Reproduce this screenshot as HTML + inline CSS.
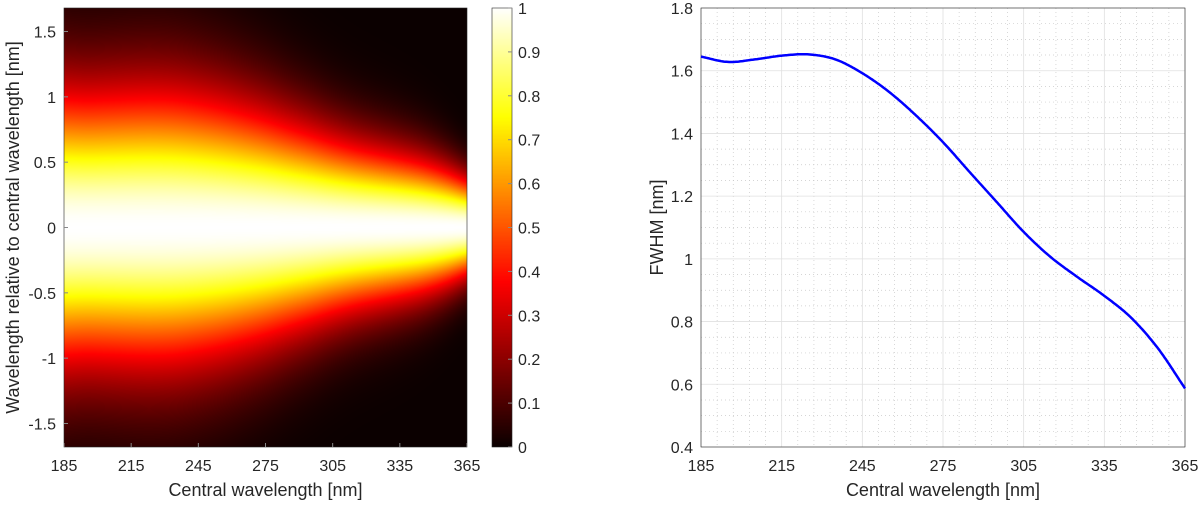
<!DOCTYPE html>
<html><head><meta charset="utf-8">
<style>
body{margin:0;background:#fff;width:1200px;height:505px;overflow:hidden;font-family:"Liberation Sans",sans-serif}
#wrap{position:relative;width:1200px;height:505px}
canvas{position:absolute}
svg{position:absolute;left:0;top:0}
text{font-family:"Liberation Sans",sans-serif;fill:#262626}
</style></head>
<body>
<div id="wrap">
<canvas id="heat" width="403" height="439" style="left:64px;top:8px"></canvas>
<canvas id="cbar" width="20" height="439" style="left:492px;top:8px"></canvas>
<svg id="svg" width="1200" height="505"></svg>
</div>
<script>
const xTicks=[185,215,245,275,305,335,365];
const lambdas=[185,195,205,215,225,235,245,255,265,275,285,295,305,315,325,335,345,355,365];
const fwhm=[1.645,1.628,1.636,1.648,1.652,1.636,1.592,1.532,1.457,1.372,1.276,1.181,1.086,1.006,0.942,0.882,0.812,0.714,0.587];
const yTicksL=[-1.5,-1,-0.5,0,0.5,1,1.5];
const yTickLabelsL=['-1.5','-1','-0.5','0','0.5','1','1.5'];
const cbTicks=[0,0.1,0.2,0.3,0.4,0.5,0.6,0.7,0.8,0.9,1];
const yTicksR=[0.4,0.6,0.8,1,1.2,1.4,1.6,1.8];
const yTickLabelsR=['0.4','0.6','0.8','1','1.2','1.4','1.6','1.8'];

const NS='http://www.w3.org/2000/svg';
const svg=document.getElementById('svg');
function el(tag,attrs,parent){const e=document.createElementNS(NS,tag);for(const k in attrs)e.setAttribute(k,attrs[k]);(parent||svg).appendChild(e);return e;}
function txt(x,y,s,anchor,size,name){const t=el('text',{x:x,y:y,'text-anchor':anchor,'font-size':size});t.textContent=s;


return t;}
function interp(x){const n=lambdas.length;
 for(let i=0;i<n-1;i++){if(x<=lambdas[i+1]||i===n-2){const h=lambdas[i+1]-lambdas[i];const t=Math.max(0,Math.min(1,(x-lambdas[i])/h));
  const p0=fwhm[Math.max(0,i-1)],p1=fwhm[i],p2=fwhm[i+1],p3=fwhm[Math.min(n-1,i+2)];
  const m1=(i===0)?(p2-p1):(p2-p0)/2, m2=(i+1===n-1)?(p2-p1):(p3-p1)/2;
  const t2=t*t,t3=t2*t;
  return (2*t3-3*t2+1)*p1+(t3-2*t2+t)*m1+(-2*t3+3*t2)*p2+(t3-t2)*m2;}}
 return fwhm[n-1];}
function hot(t){t=Math.max(0,Math.min(1,t));const r=Math.min(1,0.0417+t/0.375*(1-0.0417));const g=Math.max(0,Math.min(1,(t-0.375)/0.375));const b=Math.max(0,Math.min(1,(t-0.75)/0.25));return [r*255,g*255,b*255];}

const L={x0:64,x1:467,y0:8,y1:447,xmin:185,xmax:365,ymin:-1.68,ymax:1.68};
const lx=v=>L.x0+(v-L.xmin)/(L.xmax-L.xmin)*(L.x1-L.x0);
const ly=v=>L.y1-(v-L.ymin)/(L.ymax-L.ymin)*(L.y1-L.y0);
const hc=document.getElementById('heat').getContext('2d');
const W=403,H=439,img=hc.createImageData(W,H);
for(let i=0;i<W;i++){const lam=L.xmin+(i+0.5)/W*(L.xmax-L.xmin);const fw=interp(lam);
 for(let j=0;j<H;j++){const y=L.ymax-(j+0.5)/H*(L.ymax-L.ymin);const v=Math.exp(-4*Math.LN2*y*y/(fw*fw));const c=hot(v);const k=(j*W+i)*4;img.data[k]=c[0];img.data[k+1]=c[1];img.data[k+2]=c[2];img.data[k+3]=255;}}
hc.putImageData(img,0,0);
const cc=document.getElementById('cbar').getContext('2d');
for(let j=0;j<439;j++){const c=hot(1-(j+0.5)/439);cc.fillStyle=`rgb(${c[0]|0},${c[1]|0},${c[2]|0})`;cc.fillRect(0,j,20,1);}

el('rect',{x:L.x0,y:L.y0,width:L.x1-L.x0,height:L.y1-L.y0,fill:'none',stroke:'#262626','stroke-width':0.6});
xTicks.forEach(v=>{el('line',{x1:lx(v),x2:lx(v),y1:L.y1,y2:L.y1-4,stroke:'#888'});txt(lx(v),471,String(v),'middle',16,'x-tick-label');});
yTicksL.forEach((v,i)=>{el('line',{x1:L.x0,x2:L.x0+4,y1:ly(v),y2:ly(v),stroke:'#888'});txt(L.x0-8,ly(v)+6,yTickLabelsL[i],'end',16,'y-tick-label');});
txt((L.x0+L.x1)/2,496,'Central wavelength [nm]','middle',18,'x-axis-title');
const yt=txt(0,0,'Wavelength relative to central wavelength [nm]','middle',18,'y-axis-title');yt.setAttribute('transform',`translate(19,${(L.y0+L.y1)/2}) rotate(-90)`);
const cy=v=>447-v*439;
el('rect',{x:492,y:8,width:20,height:439,fill:'none',stroke:'#262626','stroke-width':0.6});
cbTicks.forEach(v=>{el('line',{x1:508,x2:512,y1:cy(v),y2:cy(v),stroke:'#888'});txt(518,cy(v)+6,String(v),'start',16,'colorbar-tick-label');});

const R={x0:701,x1:1185,y0:8,y1:447,xmin:185,xmax:365,ymin:0.4,ymax:1.8};
const rx=v=>R.x0+(v-R.xmin)/(R.xmax-R.xmin)*(R.x1-R.x0);
const ry=v=>R.y1-(v-R.ymin)/(R.ymax-R.ymin)*(R.y1-R.y0);
for(let v=185;v<=365;v+=6){if((v-185)%30)el('line',{x1:rx(v),x2:rx(v),y1:R.y0,y2:R.y1,stroke:'#c8c8c8','stroke-width':0.7,'stroke-dasharray':'1,3'});}
for(let k=0;k<=28;k++){if(k%4){const v=0.4+k*0.05;el('line',{x1:R.x0,x2:R.x1,y1:ry(v),y2:ry(v),stroke:'#c8c8c8','stroke-width':0.7,'stroke-dasharray':'1,3'});}}
xTicks.forEach(v=>{el('line',{x1:rx(v),x2:rx(v),y1:R.y0,y2:R.y1,stroke:'#e0e0e0','stroke-width':0.8});txt(rx(v),471,String(v),'middle',16,'x-tick-label-right');});
yTicksR.forEach((v,i)=>{el('line',{x1:R.x0,x2:R.x1,y1:ry(v),y2:ry(v),stroke:'#e0e0e0','stroke-width':0.8});txt(R.x0-8,ry(v)+6,yTickLabelsR[i],'end',16,'y-tick-label-right');});
el('rect',{x:R.x0,y:R.y0,width:R.x1-R.x0,height:R.y1-R.y0,fill:'none',stroke:'#262626','stroke-width':0.6});
let d='';for(let x=185;x<=365;x+=0.5){d+=(x===185?'M':'L')+rx(x).toFixed(1)+','+ry(interp(x)).toFixed(1);}
const line=el('path',{d:d,fill:'none',stroke:'#0000ff','stroke-width':2.5,'stroke-linejoin':'round'});


txt((R.x0+R.x1)/2,496,'Central wavelength [nm]','middle',18,'x-axis-title-right');
const yr=txt(0,0,'FWHM [nm]','middle',18,'y-axis-title-right');yr.setAttribute('transform',`translate(663,${(R.y0+R.y1)/2}) rotate(-90)`);
</script>
</body></html>
